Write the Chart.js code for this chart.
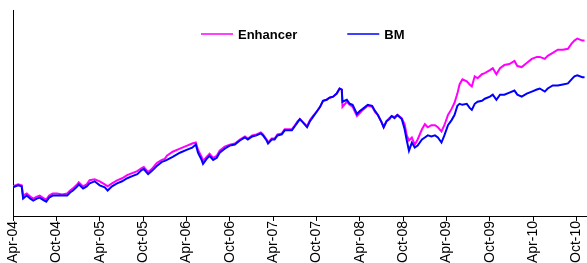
<!DOCTYPE html>
<html>
<head>
<meta charset="utf-8">
<script src="https://cdn.jsdelivr.net/npm/chart.js@4"></script>
<style>
  html, body { margin: 0; padding: 0; background: #fff; }
  #wrap { width: 587px; height: 263px; position: relative; }
</style>
</head>
<body>
<div id="wrap"><canvas id="line-chart"></canvas></div>
<script>
// x axis labels, one every 6 months starting Apr-04
const tickLabels = ['Apr-04', 'Oct-04', 'Apr-05', 'Oct-05', 'Apr-06', 'Oct-06', 'Apr-07',
  'Oct-07', 'Apr-08', 'Oct-08', 'Apr-09', 'Oct-09', 'Apr-10', 'Oct-10'];

// months since start of Apr-04
const months = [
  0.0, 0.7, 1.2, 1.4, 1.9, 2.4, 2.8, 3.3, 3.7, 4.1,
  4.6, 5.0, 5.5, 6.1, 6.8, 7.5, 7.9, 8.3, 8.9, 9.1,
  9.7, 10.2, 10.6, 11.3, 12.0, 12.7, 13.1, 13.7, 14.4, 15.1,
  15.8, 16.5, 17.2, 17.8, 18.1, 18.7, 19.2, 19.9, 20.6, 21.0,
  21.3, 22.1, 23.1, 24.1, 24.8, 25.3, 25.6, 26.1, 26.3, 26.8,
  27.2, 27.7, 28.2, 28.6, 29.3, 30.0, 30.7, 31.4, 32.1, 32.5,
  33.1, 33.7, 34.3, 34.6, 35.1, 35.3, 35.8, 36.2, 36.6, 37.2,
  37.6, 38.0, 38.6, 39.0, 39.4, 39.7, 40.1, 40.7, 41.1, 41.5,
  42.0, 42.5, 42.9, 43.4, 43.8, 44.3, 44.8, 45.2, 45.5, 45.6,
  46.2, 46.6, 47.0, 47.6, 48.0, 48.4, 49.1, 49.7, 50.1, 50.5,
  51.0, 51.3, 51.7, 52.1, 52.4, 52.8, 53.2, 53.8, 54.2, 54.5,
  54.8, 55.2, 55.6, 56.0, 56.6, 57.0, 57.4, 57.9, 58.4, 58.8,
  59.3, 59.7, 60.2, 60.7, 61.1, 61.5, 61.8, 62.2, 62.8, 63.2,
  63.5, 63.9, 64.3, 64.9, 65.3, 66.0, 66.4, 66.9, 67.4, 68.0,
  68.7, 69.4, 69.8, 70.4, 71.1, 71.8, 72.5, 72.9, 73.6, 74.0,
  74.7, 75.4, 76.1, 76.8, 77.3, 77.7, 78.1, 78.8, 79.1
];

const enhancer = [
  101, 103, 102, 92, 94, 91, 89, 91, 92, 90,
  88, 92, 94, 94, 93, 94, 97, 99, 103, 105,
  101, 103, 107, 108, 106, 103, 101, 104, 107, 109,
  112, 114, 116, 119, 120, 115, 118, 124, 127, 128,
  131, 135, 138, 141, 143, 144, 137, 130, 126, 130,
  133, 129, 131, 136, 140, 142, 143, 147, 150, 148,
  151, 152, 154, 152, 147, 144, 148, 148, 152, 153,
  157, 157, 157, 161, 165, 167, 164, 160, 166, 170,
  174, 179, 185, 186, 188, 189, 192, 197, 196, 179,
  184, 181, 179, 170, 173, 176, 180, 179, 174, 171,
  164, 159, 165, 168, 170, 169, 171, 168, 162, 151,
  146, 149, 142, 147, 157, 162, 159, 161, 161, 159,
  155, 161, 171, 177, 183, 192, 201, 206, 204, 201,
  199, 209, 207, 211, 212, 215, 217, 211, 217, 220,
  221, 224, 219, 218, 222, 226, 228, 228, 226, 229,
  232, 235, 235, 236, 241, 244, 246, 244, 244
];

const bm = [
  100, 102, 101, 89, 92, 89, 87, 89, 90, 88,
  86, 90, 92, 92, 92, 92, 95, 97, 101, 103,
  99, 101, 104, 106, 102, 100, 97, 101, 104, 106,
  109, 111, 113, 117, 118, 113, 116, 121, 125, 126,
  127, 130, 134, 137, 139, 142, 134, 127, 123, 128,
  131, 127, 129, 134, 138, 141, 142, 146, 149, 147,
  150, 151, 153, 151, 146, 143, 147, 147, 151, 152,
  156, 156, 156, 160, 164, 167, 164, 159, 165, 169,
  174, 179, 185, 186, 188, 189, 192, 197, 196, 184,
  186, 182, 181, 172, 175, 177, 181, 180, 175, 171,
  164, 159, 165, 167, 170, 168, 171, 167, 157, 146,
  136, 144, 139, 141, 147, 149, 151, 150, 151, 149,
  144, 151, 161, 166, 171, 180, 182, 181, 182, 178,
  176, 182, 184, 185, 187, 189, 191, 186, 191, 191,
  193, 195, 191, 189, 192, 194, 196, 197, 194, 197,
  200, 200, 201, 202, 206, 209, 210, 208, 208
];

const toPoints = vals => months.map((m, i) => ({ x: m, y: vals[i] }));

// legend drawn inside the plot, line sample + bold label
const lineLegend = {
  id: 'lineLegend',
  afterDraw(chart) {
    const { ctx, chartArea } = chart;
    ctx.save();
    ctx.font = 'bold 13px "Liberation Sans", Arial, sans-serif';
    ctx.textBaseline = 'middle';
    let x = chartArea.left + 188;
    const y = chartArea.top + 24;
    chart.data.datasets.forEach(ds => {
      ctx.strokeStyle = ds.borderColor;
      ctx.lineWidth = 1.5;
      ctx.beginPath();
      ctx.moveTo(x, y);
      ctx.lineTo(x + 32, y);
      ctx.stroke();
      ctx.fillStyle = '#000';
      ctx.fillText(ds.label, x + 37, y + 1);
      x += 37 + ctx.measureText(ds.label).width + 50;
    });
    ctx.restore();
  }
};

window.onload = () => {
  new Chart(document.getElementById('line-chart'), {
    type: 'line',
    data: {
      datasets: [
        { label: 'Enhancer', data: toPoints(enhancer), borderColor: '#ff00ff', borderWidth: 2, pointRadius: 0, order: 1 },
        { label: 'BM', data: toPoints(bm), borderColor: '#0000ff', borderWidth: 2, pointRadius: 0, order: 0 }
      ]
    },
    options: {
      responsive: true,
      maintainAspectRatio: false,
      animation: false,
      devicePixelRatio: 1,
      layout: { padding: { top: 10, left: 13, right: 1, bottom: 0 } },
      plugins: { legend: { display: false }, tooltip: { enabled: false } },
      scales: {
        x: {
          type: 'linear',
          min: 0,
          max: 79.3,
          afterFit: scale => { scale.paddingLeft = 0; scale.paddingRight = 0; },
          border: { display: true, color: '#000', width: 1 },
          grid: { drawOnChartArea: false, drawTicks: true, tickLength: 4, color: '#000' },
          ticks: {
            stepSize: 6,
            autoSkip: false,
            includeBounds: false,
            minRotation: 90,
            maxRotation: 90,
            padding: 0,
            color: '#000',
            font: { family: '"Liberation Sans", Arial, sans-serif', size: 14 },
            callback: v => tickLabels[v / 6]
          }
        },
        y: {
          min: 71,
          max: 274,
          afterFit: scale => { scale.width = 0; },
          border: { display: true, color: '#000', width: 1 },
          grid: { display: false },
          ticks: { display: false }
        }
      }
    },
    plugins: [lineLegend]
  });
};
</script>
</body>
</html>
